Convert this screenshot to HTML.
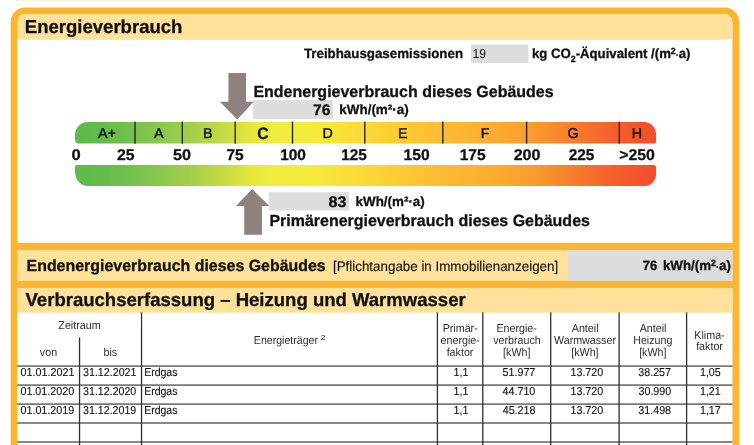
<!DOCTYPE html>
<html lang="de">
<head>
<meta charset="utf-8">
<title>Energieverbrauch</title>
<style>
html,body{margin:0;padding:0;background:#fff}
body{width:754px;height:445px;overflow:hidden;position:relative;font-family:"Liberation Sans",sans-serif;color:#111}
.a{position:absolute}
.t{position:absolute;left:0;top:0;white-space:pre;line-height:1;transform-origin:0 0;text-rendering:geometricPrecision}
</style>
</head>
<body>
<svg class="a" style="left:0;top:0" width="754" height="445" viewBox="0 0 754 445">
<defs><linearGradient id="g" gradientUnits="userSpaceOnUse" x1="75" y1="0" x2="656" y2="0"><stop offset="0.0000" stop-color="#5bbb4a"/><stop offset="0.0430" stop-color="#63bc4b"/><stop offset="0.0861" stop-color="#6fbf4d"/><stop offset="0.1291" stop-color="#82c54d"/><stop offset="0.1635" stop-color="#93ca4b"/><stop offset="0.2065" stop-color="#a6d049"/><stop offset="0.2410" stop-color="#bcd845"/><stop offset="0.2754" stop-color="#d3df40"/><stop offset="0.3012" stop-color="#e5e63c"/><stop offset="0.3219" stop-color="#ecea3e"/><stop offset="0.3442" stop-color="#f0ec40"/><stop offset="0.3959" stop-color="#f3ec3d"/><stop offset="0.4389" stop-color="#f8e63a"/><stop offset="0.4819" stop-color="#fbdc38"/><stop offset="0.5336" stop-color="#fdd035"/><stop offset="0.5938" stop-color="#fcc433"/><stop offset="0.6454" stop-color="#fdb933"/><stop offset="0.7143" stop-color="#fdae31"/><stop offset="0.7659" stop-color="#fba22e"/><stop offset="0.8090" stop-color="#f9932d"/><stop offset="0.8520" stop-color="#f7802b"/><stop offset="0.8864" stop-color="#f6712b"/><stop offset="0.9208" stop-color="#f5622a"/><stop offset="0.9552" stop-color="#f4572a"/><stop offset="0.9897" stop-color="#f44f2a"/><stop offset="1.0000" stop-color="#f44e2a"/></linearGradient></defs>
<rect x="16" y="0" width="711" height="0.8" fill="#fdf0cf"/>
<path fill="#fbb530" d="M10.6 460V21.9A14.5 14.5 0 0 1 25.1 7.4H724.7A14.5 14.5 0 0 1 739.2 21.9V460Z"/>
<path fill="#fff" d="M17.15 460V22.05A8.0 8.0 0 0 1 25.15 14.05H724.45A8.0 8.0 0 0 1 732.45 22.05V460Z"/>
<path fill="#fee29b" d="M17.15 39.7V22.05A8.0 8.0 0 0 1 25.15 14.05H724.45A8.0 8.0 0 0 1 732.45 22.05V39.7Z"/>
<rect x="14.15" y="242.8" width="721.30" height="45.2" fill="#fbb530"/>
<rect x="17.15" y="250" width="715.30" height="30.9" fill="#fee29b"/>
<rect x="568" y="250" width="164.45" height="30.8" fill="#dddddd"/>
<rect x="17.15" y="288" width="715.30" height="24.7" fill="#fee29b"/>
<rect x="471" y="44.5" width="57.4" height="18.5" fill="#dddddd"/>
<rect x="253" y="100" width="79.9" height="19" fill="#dddddd"/>
<rect x="269" y="192.2" width="79.9" height="18.3" fill="#dddddd"/>
<g fill="#8e817e"><path d="M228.4 73.1H246V101.7H253.6L237.3 119.6L219.9 101.7H228.4Z"/><path d="M252.2 189.1L269.3 206H261.9V234.8H244.2V206H236Z"/></g>
<path fill="url(#g)" d="M88.2 122.1H644.1A12 12.8 0 0 1 656.1 134.9V141.4A2 2 0 0 1 654.1 143.4H78.5A3.5 4.5 0 0 1 75 138.9V134.9A13.2 12.8 0 0 1 88.2 122.1Z"/>
<path fill="url(#g)" d="M77 165H653.6A2.5 2.5 0 0 1 656.1 167.5V173.5A10.6 12.5 0 0 1 645.5 186H87.5A12.5 14.5 0 0 1 75 171.5V167A2 2 0 0 1 77 165Z"/>
<rect x="134.30" y="121.6" width="1.4" height="22.1" fill="#2a2622"/><rect x="181.60" y="121.6" width="1.4" height="22.1" fill="#2a2622"/><rect x="234.50" y="121.6" width="1.4" height="22.1" fill="#2a2622"/><rect x="291.80" y="121.6" width="1.4" height="22.1" fill="#2a2622"/><rect x="364.10" y="121.6" width="1.4" height="22.1" fill="#2a2622"/><rect x="442.10" y="121.6" width="1.4" height="22.1" fill="#2a2622"/><rect x="525.90" y="121.6" width="1.4" height="22.1" fill="#2a2622"/><rect x="618.60" y="121.6" width="1.4" height="22.1" fill="#2a2622"/>
<rect x="17.15" y="365.40" width="715.30" height="1.4" fill="#585858"/><rect x="17.15" y="384.40" width="715.30" height="1.4" fill="#585858"/><rect x="17.15" y="403.40" width="715.30" height="1.4" fill="#585858"/><rect x="17.15" y="422.30" width="715.30" height="1.4" fill="#585858"/><rect x="17.15" y="441.30" width="715.30" height="1.4" fill="#585858"/>
<rect x="78.90" y="337.4" width="1.3" height="107.6" fill="#303030"/><rect x="140.90" y="312.3" width="1.3" height="132.7" fill="#303030"/><rect x="436.75" y="312.3" width="1.3" height="132.7" fill="#303030"/><rect x="482.15" y="312.3" width="1.3" height="132.7" fill="#303030"/><rect x="550.05" y="312.3" width="1.3" height="132.7" fill="#303030"/><rect x="618.45" y="312.3" width="1.3" height="132.7" fill="#303030"/><rect x="685.95" y="312.3" width="1.3" height="132.7" fill="#303030"/>
</svg>
<div class="a" style="left:0;top:0;width:754px;height:445px;will-change:transform">
<div class="t" style="font-size:18.75px;font-weight:bold;color:#111;transform:translate(24.77px,18px) scaleX(0.9888);-webkit-text-stroke:0.3px #111">Energieverbrauch</div>
<div class="t" style="font-size:13.5px;font-weight:bold;color:#111;transform:translate(303.90px,47px) scaleX(0.9865);-webkit-text-stroke:0.3px #111">Treibhausgasemissionen</div>
<div class="t" style="font-size:13px;font-weight:normal;color:#111;transform:translate(472.52px,47px) scaleX(0.9335)">19</div>
<div class="t" style="font-size:13.5px;font-weight:bold;color:#111;transform:translate(531.91px,47px) scaleX(0.9765);-webkit-text-stroke:0.3px #111">kg CO<span style="font-size:9px;position:relative;top:3.5px">2</span>-Äquivalent /(m<span style="font-size:9px;position:relative;top:-4px">2</span><span style="font-size:9px">·</span>a)</div>
<div class="t" style="font-size:16.1px;font-weight:bold;color:#111;transform:translate(253.43px,84px) scaleX(0.9930);-webkit-text-stroke:0.3px #111">Endenergieverbrauch dieses Gebäudes</div>
<div class="t" style="font-size:15.3px;font-weight:bold;color:#111;transform:translate(313.10px,103px) scaleX(1.0228);-webkit-text-stroke:0.3px #111">76</div>
<div class="t" style="font-size:13.5px;font-weight:bold;color:#111;transform:translate(339.28px,103px) scaleX(0.9959);-webkit-text-stroke:0.3px #111">kWh/(m²·a)</div>
<div class="t" style="font-size:14.3px;font-weight:normal;color:#111;transform:translate(98.00px,127px);-webkit-text-stroke:0.4px #111">A+</div>
<div class="t" style="font-size:14.3px;font-weight:normal;color:#111;transform:translate(154.04px,127px);-webkit-text-stroke:0.4px #111">A</div>
<div class="t" style="font-size:14.3px;font-weight:normal;color:#111;transform:translate(202.94px,127px);-webkit-text-stroke:0.4px #111">B</div>
<div class="t" style="font-size:14.3px;font-weight:normal;color:#111;transform:translate(322.47px,127px);-webkit-text-stroke:0.4px #111">D</div>
<div class="t" style="font-size:14.3px;font-weight:normal;color:#111;transform:translate(398.09px,127px);-webkit-text-stroke:0.4px #111">E</div>
<div class="t" style="font-size:14.3px;font-weight:normal;color:#111;transform:translate(480.76px,127px);-webkit-text-stroke:0.4px #111">F</div>
<div class="t" style="font-size:14.3px;font-weight:normal;color:#111;transform:translate(567.60px,127px);-webkit-text-stroke:0.4px #111">G</div>
<div class="t" style="font-size:14.3px;font-weight:normal;color:#111;transform:translate(631.74px,127px);-webkit-text-stroke:0.4px #111">H</div>
<div class="t" style="font-size:16.5px;font-weight:bold;color:#111;transform:translate(257.32px,126px) scaleX(0.9433);-webkit-text-stroke:0.3px #111">C</div>
<div class="t" style="font-size:15.5px;font-weight:bold;color:#111;transform:translate(71.46px,148px) scaleX(1.0673);-webkit-text-stroke:0.3px #111">0</div>
<div class="t" style="font-size:15.5px;font-weight:bold;color:#111;transform:translate(116.94px,148px) scaleX(1.0198);-webkit-text-stroke:0.3px #111">25</div>
<div class="t" style="font-size:15.5px;font-weight:bold;color:#111;transform:translate(172.93px,148px) scaleX(1.0462);-webkit-text-stroke:0.3px #111">50</div>
<div class="t" style="font-size:15.5px;font-weight:bold;color:#111;transform:translate(226.45px,148px) scaleX(0.9995);-webkit-text-stroke:0.3px #111">75</div>
<div class="t" style="font-size:15.5px;font-weight:bold;color:#111;transform:translate(280.17px,148px) scaleX(0.9963);-webkit-text-stroke:0.3px #111">100</div>
<div class="t" style="font-size:15.5px;font-weight:bold;color:#111;transform:translate(341.20px,148px) scaleX(0.9876);-webkit-text-stroke:0.3px #111">125</div>
<div class="t" style="font-size:15.5px;font-weight:bold;color:#111;transform:translate(403.62px,148px) scaleX(1.0073);-webkit-text-stroke:0.3px #111">150</div>
<div class="t" style="font-size:15.5px;font-weight:bold;color:#111;transform:translate(459.63px,148px) scaleX(1.0027);-webkit-text-stroke:0.3px #111">175</div>
<div class="t" style="font-size:15.5px;font-weight:bold;color:#111;transform:translate(513.67px,148px) scaleX(1.0348);-webkit-text-stroke:0.3px #111">200</div>
<div class="t" style="font-size:15.5px;font-weight:bold;color:#111;transform:translate(568.73px,148px) scaleX(0.9919);-webkit-text-stroke:0.3px #111">225</div>
<div class="t" style="font-size:15.5px;font-weight:bold;color:#111;transform:translate(619.23px,148px) scaleX(1.0213);-webkit-text-stroke:0.3px #111">&gt;250</div>
<div class="t" style="font-size:15.3px;font-weight:bold;color:#111;transform:translate(328.57px,195px) scaleX(1.0513);-webkit-text-stroke:0.3px #111">83</div>
<div class="t" style="font-size:13.5px;font-weight:bold;color:#111;transform:translate(355.59px,195px) scaleX(0.9917);-webkit-text-stroke:0.3px #111">kWh/(m²·a)</div>
<div class="t" style="font-size:16.1px;font-weight:bold;color:#111;transform:translate(269.43px,213px) scaleX(0.9924);-webkit-text-stroke:0.3px #111">Primärenergieverbrauch dieses Gebäudes</div>
<div class="t" style="font-size:16.1px;font-weight:bold;color:#111;transform:translate(26.54px,258px) scaleX(0.9896);-webkit-text-stroke:0.3px #111">Endenergieverbrauch dieses Gebäudes</div>
<div class="t" style="font-size:14px;font-weight:normal;color:#111;transform:translate(332.95px,259px) scaleX(0.9550);-webkit-text-stroke:0.12px #111">[Pflichtangabe in Immobilienanzeigen]</div>
<div class="t" style="font-size:13.5px;font-weight:bold;color:#111;transform:translate(642.75px,259px) scaleX(0.9533);-webkit-text-stroke:0.3px #111">76</div>
<div class="t" style="font-size:13.5px;font-weight:bold;color:#111;transform:translate(662.89px,259px) scaleX(0.9881);-webkit-text-stroke:0.3px #111">kWh/(m<span style="font-size:9px;position:relative;top:-4px">2</span><span style="font-size:9px">·</span>a)</div>
<div class="t" style="font-size:18.75px;font-weight:bold;color:#111;transform:translate(25.52px,291px) scaleX(0.9885);-webkit-text-stroke:0.3px #111">Verbrauchserfassung – Heizung und Warmwasser</div>
<div class="t" style="font-size:11.5px;font-weight:normal;color:#2e2e2e;transform:translate(58.37px,321px) scaleX(0.9300)">Zeitraum</div>
<div class="t" style="font-size:11.5px;font-weight:normal;color:#2e2e2e;transform:translate(39.86px,348px) scaleX(0.9300)">von</div>
<div class="t" style="font-size:11.5px;font-weight:normal;color:#2e2e2e;transform:translate(103.43px,348px) scaleX(0.9300)">bis</div>
<div class="t" style="font-size:11.5px;font-weight:normal;color:#2e2e2e;transform:translate(253.85px,336px) scaleX(0.9195)">Energieträger</div>
<div class="t" style="font-size:7px;font-weight:normal;color:#111;transform:translate(320.86px,335px) scaleX(1.2044)">2</div>
<div class="t" style="font-size:11.5px;font-weight:normal;color:#2e2e2e;transform:translate(442.66px,324px) scaleX(0.9300)">Primär-</div>
<div class="t" style="font-size:11.5px;font-weight:normal;color:#2e2e2e;transform:translate(440.60px,336px) scaleX(0.9300)">energie-</div>
<div class="t" style="font-size:11.5px;font-weight:normal;color:#2e2e2e;transform:translate(446.65px,348px) scaleX(0.9300)">faktor</div>
<div class="t" style="font-size:11.5px;font-weight:normal;color:#2e2e2e;transform:translate(496.43px,324px) scaleX(0.9300)">Energie-</div>
<div class="t" style="font-size:11.5px;font-weight:normal;color:#2e2e2e;transform:translate(493.18px,336px) scaleX(0.9300)">verbrauch</div>
<div class="t" style="font-size:11.5px;font-weight:normal;color:#2e2e2e;transform:translate(503.06px,348px) scaleX(0.9300)">[kWh]</div>
<div class="t" style="font-size:11.5px;font-weight:normal;color:#2e2e2e;transform:translate(571.75px,324px) scaleX(0.9300)">Anteil</div>
<div class="t" style="font-size:11.5px;font-weight:normal;color:#2e2e2e;transform:translate(553.98px,336px) scaleX(0.9300)">Warmwasser</div>
<div class="t" style="font-size:11.5px;font-weight:normal;color:#2e2e2e;transform:translate(571.26px,348px) scaleX(0.9300)">[kWh]</div>
<div class="t" style="font-size:11.5px;font-weight:normal;color:#2e2e2e;transform:translate(639.69px,324px) scaleX(0.9300)">Anteil</div>
<div class="t" style="font-size:11.5px;font-weight:normal;color:#2e2e2e;transform:translate(633.17px,336px) scaleX(0.9300)">Heizung</div>
<div class="t" style="font-size:11.5px;font-weight:normal;color:#2e2e2e;transform:translate(639.14px,348px) scaleX(0.9300)">[kWh]</div>
<div class="t" style="font-size:11.5px;font-weight:normal;color:#2e2e2e;transform:translate(694.35px,331px) scaleX(0.9300)">Klima-</div>
<div class="t" style="font-size:11.5px;font-weight:normal;color:#2e2e2e;transform:translate(696.15px,342px) scaleX(0.9300)">faktor</div>
<div class="t" style="font-size:11.5px;font-weight:normal;color:#111;transform:translate(20.43px,368px) scaleX(0.9377);-webkit-text-stroke:0.12px #111">01.01.2021</div>
<div class="t" style="font-size:11.5px;font-weight:normal;color:#111;transform:translate(83.04px,368px) scaleX(0.9279);-webkit-text-stroke:0.12px #111">31.12.2021</div>
<div class="t" style="font-size:11.5px;font-weight:normal;color:#111;transform:translate(144.18px,368px) scaleX(0.9126);-webkit-text-stroke:0.12px #111">Erdgas</div>
<div class="t" style="font-size:11.5px;font-weight:normal;color:#111;transform:translate(453.62px,368px) scaleX(0.9300);-webkit-text-stroke:0.12px #111">1,1</div>
<div class="t" style="font-size:11.5px;font-weight:normal;color:#111;transform:translate(502.59px,368px) scaleX(0.9300);-webkit-text-stroke:0.12px #111">51.977</div>
<div class="t" style="font-size:11.5px;font-weight:normal;color:#111;transform:translate(570.49px,368px) scaleX(0.9300);-webkit-text-stroke:0.12px #111">13.720</div>
<div class="t" style="font-size:11.5px;font-weight:normal;color:#111;transform:translate(638.26px,368px) scaleX(0.9300);-webkit-text-stroke:0.12px #111">38.257</div>
<div class="t" style="font-size:11.5px;font-weight:normal;color:#111;transform:translate(699.95px,368px) scaleX(0.9300);-webkit-text-stroke:0.12px #111">1,05</div>
<div class="t" style="font-size:11.5px;font-weight:normal;color:#111;transform:translate(20.45px,387px) scaleX(0.9324);-webkit-text-stroke:0.12px #111">01.01.2020</div>
<div class="t" style="font-size:11.5px;font-weight:normal;color:#111;transform:translate(83.08px,387px) scaleX(0.9241);-webkit-text-stroke:0.12px #111">31.12.2020</div>
<div class="t" style="font-size:11.5px;font-weight:normal;color:#111;transform:translate(144.18px,387px) scaleX(0.9126);-webkit-text-stroke:0.12px #111">Erdgas</div>
<div class="t" style="font-size:11.5px;font-weight:normal;color:#111;transform:translate(453.62px,387px) scaleX(0.9300);-webkit-text-stroke:0.12px #111">1,1</div>
<div class="t" style="font-size:11.5px;font-weight:normal;color:#111;transform:translate(502.61px,387px) scaleX(0.9300);-webkit-text-stroke:0.12px #111">44.710</div>
<div class="t" style="font-size:11.5px;font-weight:normal;color:#111;transform:translate(570.49px,387px) scaleX(0.9300);-webkit-text-stroke:0.12px #111">13.720</div>
<div class="t" style="font-size:11.5px;font-weight:normal;color:#111;transform:translate(638.48px,387px) scaleX(0.9300);-webkit-text-stroke:0.12px #111">30.990</div>
<div class="t" style="font-size:11.5px;font-weight:normal;color:#111;transform:translate(699.94px,387px) scaleX(0.9300);-webkit-text-stroke:0.12px #111">1,21</div>
<div class="t" style="font-size:11.5px;font-weight:normal;color:#111;transform:translate(20.44px,406px) scaleX(0.9350);-webkit-text-stroke:0.12px #111">01.01.2019</div>
<div class="t" style="font-size:11.5px;font-weight:normal;color:#111;transform:translate(83.05px,406px) scaleX(0.9243);-webkit-text-stroke:0.12px #111">31.12.2019</div>
<div class="t" style="font-size:11.5px;font-weight:normal;color:#111;transform:translate(144.18px,406px) scaleX(0.9126);-webkit-text-stroke:0.12px #111">Erdgas</div>
<div class="t" style="font-size:11.5px;font-weight:normal;color:#111;transform:translate(453.62px,406px) scaleX(0.9300);-webkit-text-stroke:0.12px #111">1,1</div>
<div class="t" style="font-size:11.5px;font-weight:normal;color:#111;transform:translate(502.71px,406px) scaleX(0.9300);-webkit-text-stroke:0.12px #111">45.218</div>
<div class="t" style="font-size:11.5px;font-weight:normal;color:#111;transform:translate(570.49px,406px) scaleX(0.9300);-webkit-text-stroke:0.12px #111">13.720</div>
<div class="t" style="font-size:11.5px;font-weight:normal;color:#111;transform:translate(638.33px,406px) scaleX(0.9300);-webkit-text-stroke:0.12px #111">31.498</div>
<div class="t" style="font-size:11.5px;font-weight:normal;color:#111;transform:translate(699.95px,406px) scaleX(0.9300);-webkit-text-stroke:0.12px #111">1,17</div>
</div>
</body>
</html>
